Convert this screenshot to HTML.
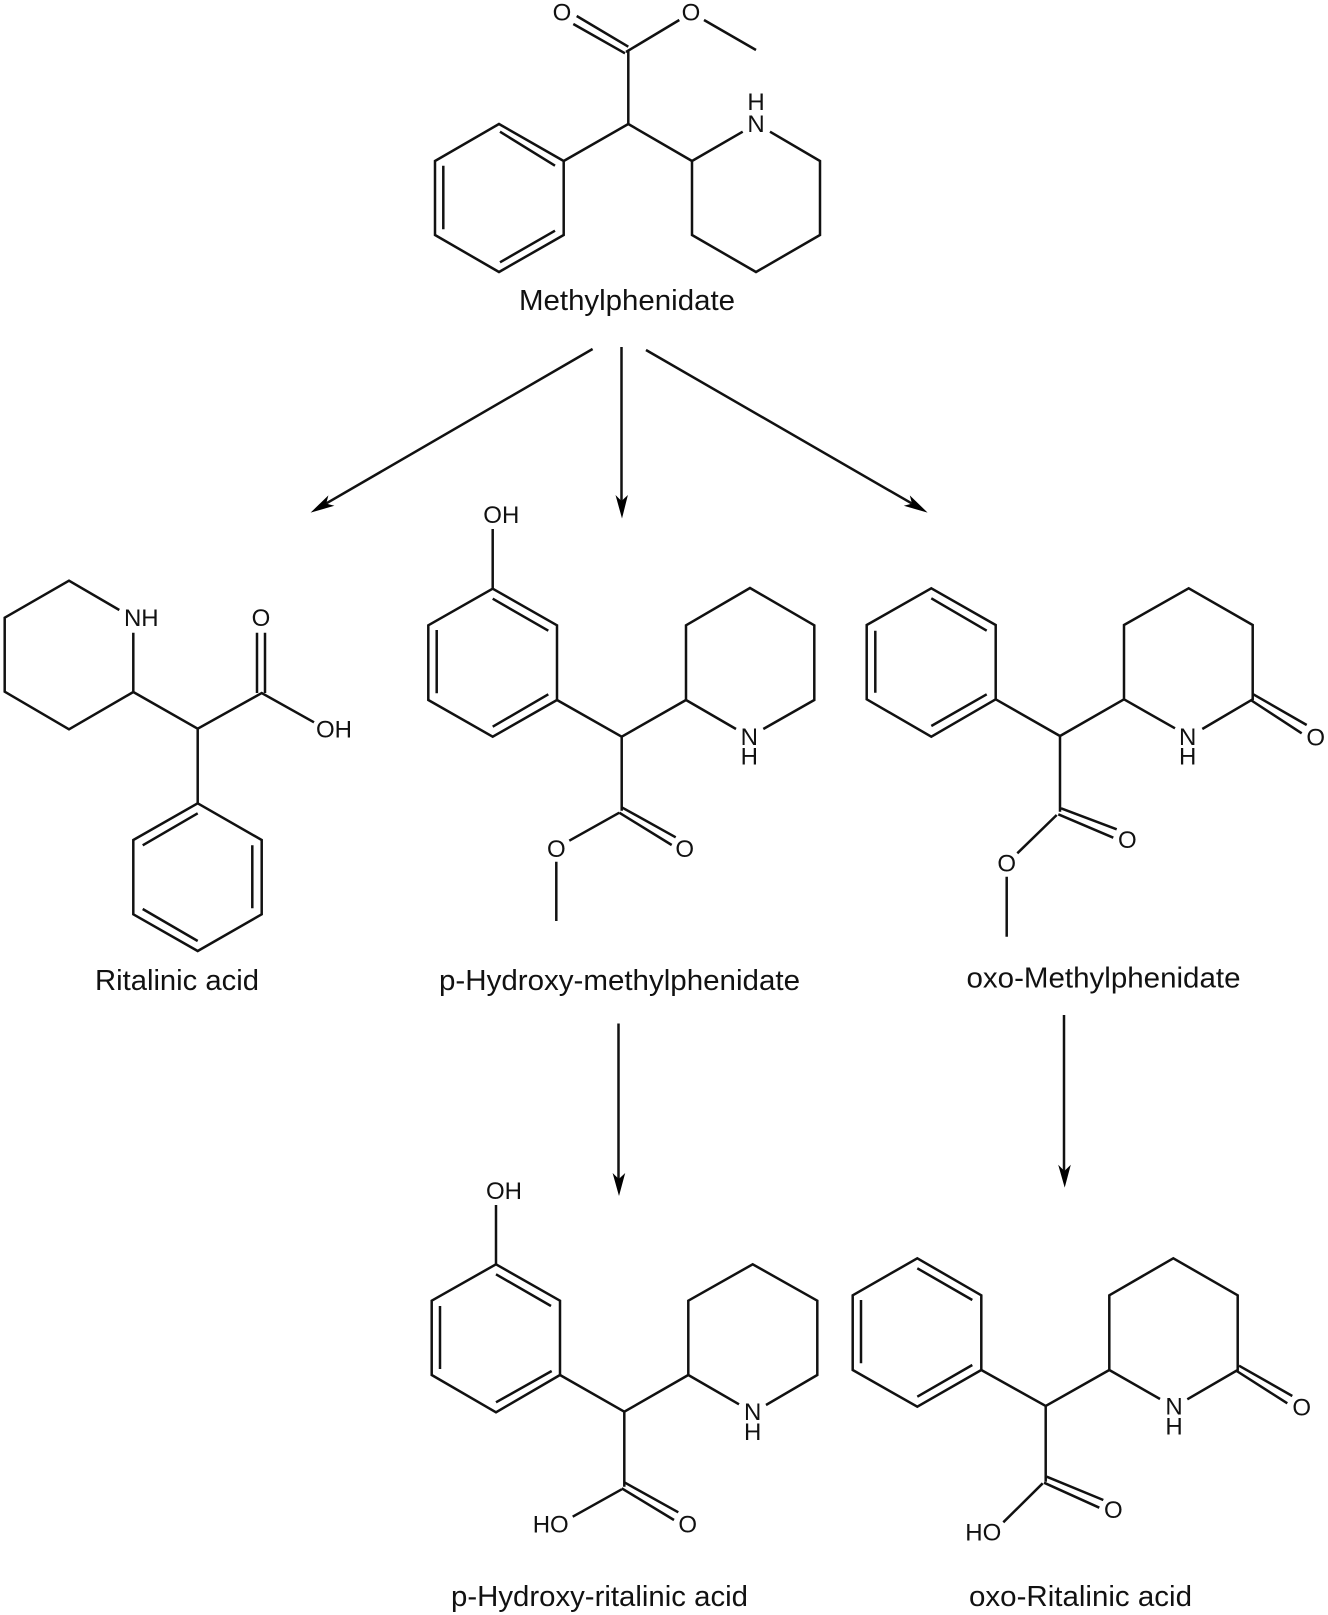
<!DOCTYPE html>
<html><head><meta charset="utf-8"><style>
html,body{margin:0;padding:0;background:#fff;width:1328px;height:1615px;overflow:hidden}
svg{display:block;filter:blur(.35px)}
.a{font:24px "Liberation Sans",sans-serif;fill:#111;text-anchor:middle}
.l{font:29px "Liberation Sans",sans-serif;fill:#111}
</style></head><body>
<svg width="1328" height="1615" viewBox="0 0 1328 1615" xmlns="http://www.w3.org/2000/svg">
<rect width="1328" height="1615" fill="#fff"/>
<g fill="none" stroke="#111" stroke-width="2.5" stroke-linejoin="miter" stroke-linecap="butt">
<!-- Methylphenidate -->
<polygon points="499,124 563.7,161 563.7,235 499,272 435,235 435,161"/>
<path d="M500,131.7L555,165.7M443.3,165.7V229.3M500,262.3L555,230.7"/>
<path d="M563.7,161L628.3,124L692,161M628.3,124V50"/>
<path d="M576.7,16L628.3,46.7M573.3,24L625,53.3M626,52L679.3,20M704,20L756,50"/>
<path d="M742.7,131.7L692,161V235L756,272L820,235V161L770,131.7"/>
<!-- Arrows row 1 -->
<path d="M592.6,349L326,503.6M621.5,347V501M646,350L912,503.6"/>
<!-- Ritalinic acid -->
<path d="M119.3,610L69,580.7L4.7,617.7V691.7L69,729.3L133.3,692V632.7"/>
<path d="M133.3,692L197.7,728.7L261.7,693L314,722.3M197.7,728.7V803.3"/>
<path d="M257,632.7V693M265,632.7V693"/>
<polygon points="197.7,803.3 261.7,840 261.7,914.3 197.7,951 133.3,914.3 133.3,840"/>
<path d="M142.7,845.3L197.7,813.3M252.3,845.3V908.3M142.7,909L197.7,941"/>
<!-- p-Hydroxy-methylphenidate -->
<path d="M492.7,529V588.7"/>
<polygon points="492.7,588.7 557,625.3 557,700 492.7,736.7 428.3,700 428.3,625.3"/>
<path d="M492.7,598.7L548.3,630.7M436.7,630V693.3M492.7,726.7L548.3,694.3"/>
<path d="M557,700L621.7,736.7L686,700M621.7,736.7V810.7"/>
<path d="M736,729L686,700V625.3L750,588L814.3,625.3V700L763.3,729"/>
<path d="M569.3,840.7L619.3,812.7M621.7,807.3L675.7,837.3M619.3,812.7L671.7,845M556.3,861.7V921"/>
<!-- oxo-Methylphenidate -->
<polygon points="931.3,588.3 995.7,625 995.7,699.3 931.3,736.7 866.7,699.3 866.7,625"/>
<path d="M931.3,598.3L986.7,630.7M875.3,630.7V692.7M931.3,726L986.7,694.3"/>
<path d="M995.7,699.3L1060,736L1124,699.3M1060,736V811.7"/>
<path d="M1175,728.3L1124,699.3V625L1188.7,588.3L1252.7,625V699.3L1202.3,729"/>
<path d="M1253.3,694.3L1306.7,725M1250.7,700L1301.7,733.3"/>
<path d="M1061,808.3L1116.7,829.3M1058.3,814.3L1113.3,837.7M1056.7,815L1017.3,853.3M1006.7,876.7V936.7"/>
<!-- Arrows row 2 -->
<path d="M618.5,1023.5V1180M1064,1015V1172"/>
<!-- p-Hydroxy-ritalinic acid -->
<path d="M496,1205V1264.3"/>
<polygon points="496,1264.3 560,1300.7 560,1375 496,1412.3 431.7,1375 431.7,1300.7"/>
<path d="M496,1274.3L551,1306M440,1306V1369M496,1402.3L551.7,1371"/>
<path d="M560,1375L624.3,1411.7L688.3,1375M624.3,1411.7V1486.7"/>
<path d="M739,1404.3L688.3,1375V1300.7L752.7,1264.3L817.3,1300.7V1375L766,1405"/>
<path d="M625,1482.7L678.3,1512.3M621.7,1488.3L674,1520M621.7,1489.3L572.7,1516.7"/>
<!-- oxo-Ritalinic acid -->
<polygon points="917.3,1258.3 981.3,1295.3 981.3,1370 917.3,1406.7 852.7,1370 852.7,1295.3"/>
<path d="M917.3,1268.3L972.3,1300M861,1300V1363.3M917.3,1396.7L972.3,1365"/>
<path d="M981.3,1370L1045.7,1406L1109.3,1370M1045.7,1406V1481.7"/>
<path d="M1160,1399L1109.3,1370V1295.3L1173.3,1258.3L1237.7,1295.3V1370L1187.3,1399.3"/>
<path d="M1239,1365.7L1292.3,1396M1236.7,1371L1287.3,1403.3"/>
<path d="M1046.7,1476.7L1103.3,1500M1044,1482.7L1099.3,1507.7M1042.7,1483.3L1003.3,1522.3"/>
</g>
<g fill="#000">
<polygon points="310.6,512.6 334.4,505.8 326.2,503.6 328.4,495.4"/>
<polygon points="622,518.5 615.5,495 621.5,501 627.9,495"/>
<polygon points="927.6,512.6 903.8,505.8 912,503.6 909.8,495.4"/>
<polygon points="619,1196 612.6,1173 618.8,1179 625.2,1173"/>
<polygon points="1064.7,1187.6 1058.2,1164.8 1064.4,1171 1070.8,1164.8"/>
</g>
<g class="atoms">
<text class="a" x="562" y="20.5">O</text>
<text class="a" x="691" y="20.5">O</text>
<text class="a" x="756" y="132">N</text>
<text class="a" x="756" y="110">H</text>
<text class="a" x="141.3" y="626">NH</text>
<text class="a" x="261" y="626">O</text>
<text class="a" x="334" y="737.5">OH</text>
<text class="a" x="501.3" y="523">OH</text>
<text class="a" x="556.3" y="857">O</text>
<text class="a" x="684.7" y="857">O</text>
<text class="a" x="749.3" y="745">N</text>
<text class="a" x="749.3" y="764.5">H</text>
<text class="a" x="1187.7" y="745">N</text>
<text class="a" x="1187.7" y="764.5">H</text>
<text class="a" x="1315.7" y="745.3">O</text>
<text class="a" x="1127.3" y="848">O</text>
<text class="a" x="1006.7" y="871.3">O</text>
<text class="a" x="504" y="1199">OH</text>
<text class="a" x="752.7" y="1420">N</text>
<text class="a" x="752.7" y="1440">H</text>
<text class="a" x="550.7" y="1532.5">HO</text>
<text class="a" x="687.7" y="1532.5">O</text>
<text class="a" x="1174" y="1414.5">N</text>
<text class="a" x="1174" y="1434.5">H</text>
<text class="a" x="1301.7" y="1415.3">O</text>
<text class="a" x="1113.3" y="1518">O</text>
<text class="a" x="983.3" y="1540.5">HO</text>
</g>
<g>
<text class="l" x="519" y="310" textLength="216" lengthAdjust="spacingAndGlyphs">Methylphenidate</text>
<text class="l" x="95" y="990" textLength="164" lengthAdjust="spacingAndGlyphs">Ritalinic acid</text>
<text class="l" x="439" y="990" textLength="361" lengthAdjust="spacingAndGlyphs">p-Hydroxy-methylphenidate</text>
<text class="l" x="966.5" y="987.5" textLength="274" lengthAdjust="spacingAndGlyphs">oxo-Methylphenidate</text>
<text class="l" x="451" y="1606" textLength="297" lengthAdjust="spacingAndGlyphs">p-Hydroxy-ritalinic acid</text>
<text class="l" x="969" y="1606" textLength="223" lengthAdjust="spacingAndGlyphs">oxo-Ritalinic acid</text>
</g>
</svg>
</body></html>
